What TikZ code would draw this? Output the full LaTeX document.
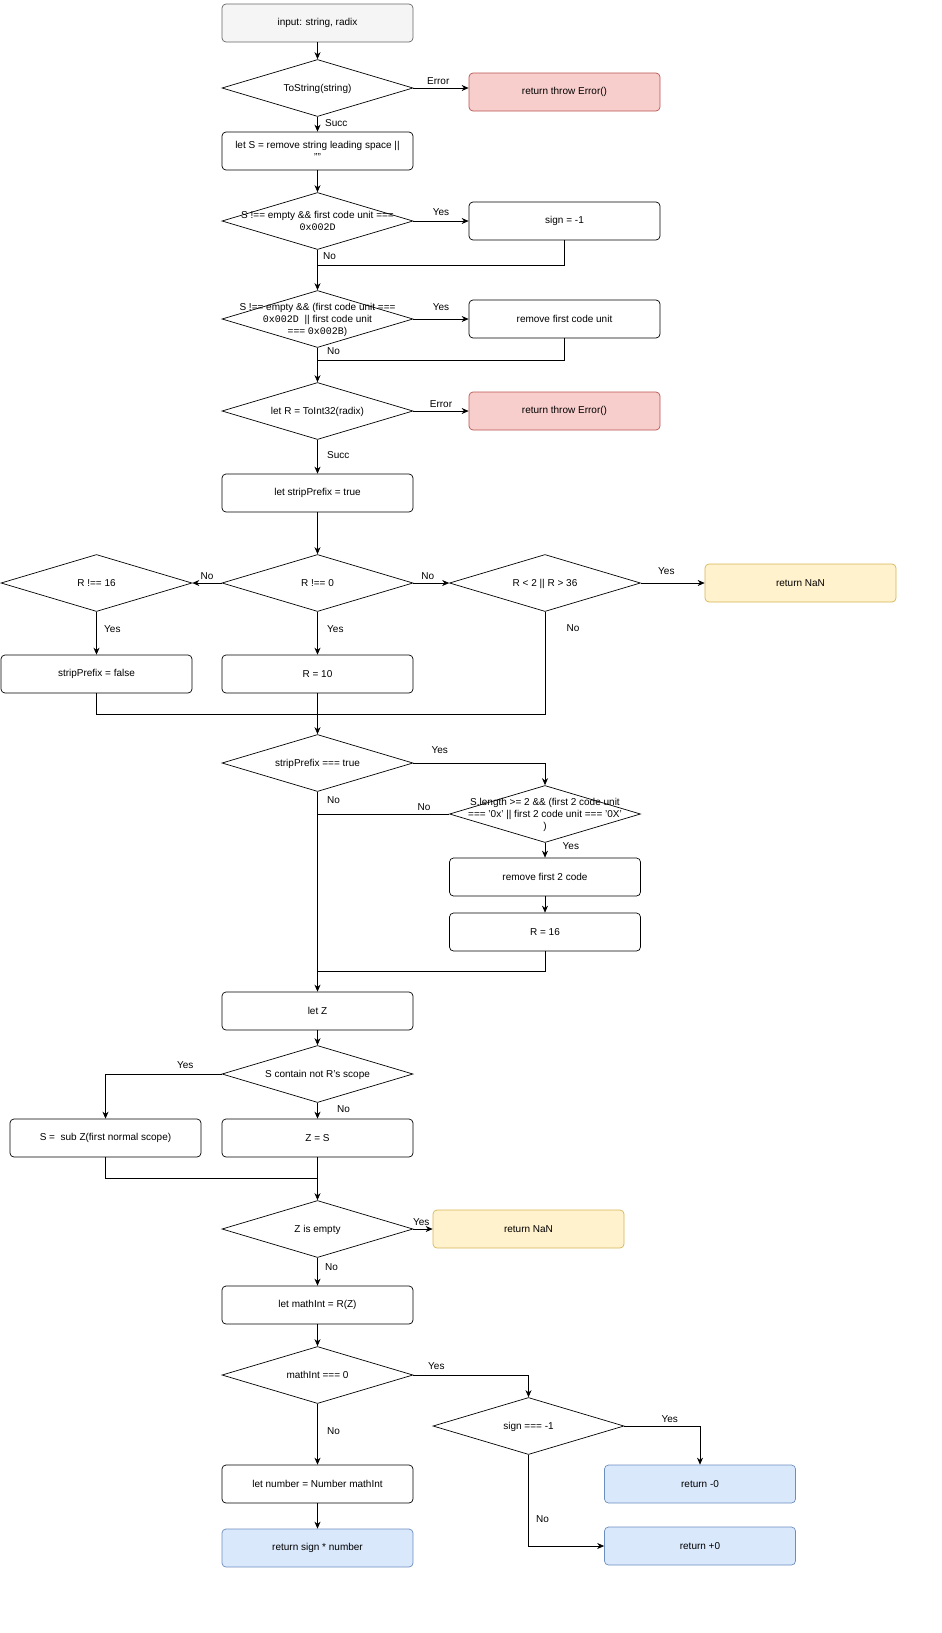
\documentclass[tikz,border=0pt]{standalone}
\usepackage{fontspec}
\setmainfont{Liberation Sans}
\newfontfamily\mon{Liberation Mono}
\usetikzlibrary{shapes.geometric,arrows.meta}
\newcommand\dtx[1]{\makebox[0pt]{\smash{\raisebox{-3.5pt}{\begin{tabular}{@{}c@{}}#1\end{tabular}}}}}
\begin{document}
\begin{tikzpicture}[x=1pt,y=-1pt,font=\fontsize{10}{12}\selectfont,
 box/.style={draw,rounded corners=4pt,minimum width=191pt,minimum height=38pt,align=center,inner sep=1pt},
 dia/.style={draw,diamond,aspect=3.35,minimum width=191pt,minimum height=57pt,inner sep=0pt,align=center},
 ar/.style={-{Stealth[length=7pt,width=6pt]},line width=0.7pt},
 ln/.style={line width=0.7pt},
 lb/.style={font=\fontsize{10}{12}\selectfont}]
\useasboundingbox (0,0) rectangle (942,1633);
\tikzset{every node/.append style={line width=0.7pt}}
\colorlet{gr}{black!4}
\definecolor{rd}{HTML}{F8CECC}\definecolor{rdb}{HTML}{B85450}
\definecolor{yl}{HTML}{FFF2CC}\definecolor{ylb}{HTML}{D6B656}
\definecolor{bl}{HTML}{DAE8FC}\definecolor{blb}{HTML}{6C8EBF}
\node[box,fill=gr,draw=black!60] (in) at (317.5,23) {input: string, radix};
\node[dia] (d1) at (317.5,88) {\dtx{ToString(string)}};
\node[box,fill=rd,draw=rdb] (e1) at (564.5,92) {return throw Error()};
\node[box] (s) at (317.5,151) {\dtx{let S = remove string leading space ||\\""}};
\node[dia] (d2) at (317.5,221) {\dtx{S !== empty \&\& first code unit ===\\{\mon 0x002D}}};
\node[box] (sg) at (564.5,221) {sign = -1};
\node[dia] (d3) at (317.5,319) {\dtx{S !== empty \&\& (first code unit ===\\{\mon 0x002D}\ \ || first code unit\\=== {\mon 0x002B})}};
\node[box] (rf) at (564.5,319) {remove first code unit};
\node[dia] (d4) at (317.5,411) {\dtx{let R = ToInt32(radix)}};
\node[box,fill=rd,draw=rdb] (e2) at (564.5,411) {return throw Error()};
\node[box] (sp) at (317.5,493) {let stripPrefix = true};
\node[dia] (d5) at (317.5,583) {\dtx{R !== 0}};
\node[dia] (d6) at (96.5,583) {\dtx{R !== 16}};
\node[dia] (d7) at (545,583) {\dtx{R < 2 || R > 36}};
\node[box,fill=yl,draw=ylb] (n1) at (800.5,583) {return NaN};
\node[box] (sf) at (96.5,674) {stripPrefix = false};
\node[box] (r10) at (317.5,674) {R = 10};
\node[dia] (d8) at (317.5,763) {\dtx{stripPrefix === true}};
\node[dia] (d9) at (545,814) {\dtx{S.length >= 2 \&\& (first 2 code unit\\=== '0x' || first 2 code unit === '0X'\\)}};
\node[box] (r2) at (545,877) {remove first 2 code};
\node[box] (r16) at (545,932) {R = 16};
\node[box] (z) at (317.5,1011) {let Z};
\node[dia] (d10) at (317.5,1074) {\dtx{S contain not R's scope}};
\node[box] (sz) at (105.5,1138) {S =\ \ sub Z(first normal scope)};
\node[box] (zs) at (317.5,1138) {Z = S};
\node[dia] (d11) at (317.5,1229) {\dtx{Z is empty}};
\node[box,fill=yl,draw=ylb] (n2) at (528.5,1229) {return NaN};
\node[box] (mi) at (317.5,1305) {let mathInt = R(Z)};
\node[dia] (d12) at (317.5,1375) {\dtx{mathInt === 0}};
\node[dia] (d13) at (528.5,1426) {\dtx{sign === -1}};
\node[box,fill=bl,draw=blb] (m0) at (700,1484) {return -0};
\node[box,fill=bl,draw=blb] (p0) at (700,1546) {return +0};
\node[box] (nm) at (317.5,1484) {let number = Number mathInt};
\node[box,fill=bl,draw=blb] (rs) at (317.5,1548) {return sign * number};
\coordinate (m1) at (317.5,265);
\coordinate (m2) at (317.5,360);
\coordinate (m3) at (317.5,714);
\coordinate (m4) at (317.5,971);
\coordinate (m5) at (317.5,1178);
\draw[ar] (in) -- (d1);
\draw[ar] (d1.east) -- (e1.west|-d1.east) node[pos=0.45,above,lb]{Error};
\draw[ar] (d1) -- (s) node[pos=0.4,right,lb,xshift=4pt]{Succ};
\draw[ar] (s) -- (d2);
\draw[ar] (d2) -- (sg) node[pos=0.5,above,lb,yshift=2pt]{Yes};
\draw[ln] (sg.south) |- (m1);
\draw[ar] (d2.south) -- (d3.north) node[pos=0.15,right,lb,xshift=2pt]{No};
\draw[ar] (d3) -- (rf) node[pos=0.5,above,lb,yshift=5pt]{Yes};
\draw[ln] (rf.south) |- (m2);
\draw[ar] (d3.south) -- (d4.north) node[pos=0.1,right,lb,xshift=6pt]{No};
\draw[ar] (d4) -- (e2) node[pos=0.5,above,lb]{Error};
\draw[ar] (d4) -- (sp) node[pos=0.45,right,lb,xshift=6pt]{Succ};
\draw[ar] (sp) -- (d5);
\draw[ar] (d5) -- (d6) node[pos=0.5,above,lb]{No};
\draw[ar] (d5) -- (d7) node[pos=0.4,above,lb]{No};
\draw[ar] (d7) -- (n1) node[pos=0.4,above,lb,yshift=5pt]{Yes};
\draw[ar] (d6) -- (sf) node[pos=0.4,right,lb,xshift=4pt]{Yes};
\draw[ar] (d5) -- (r10) node[pos=0.4,right,lb,xshift=6pt]{Yes};
\draw[ln] (sf.south) |- (m3);
\draw[ln] (d7.south) |- (m3) node[pos=0.08,right,lb,xshift=18pt]{No};
\draw[ar] (r10) -- (d8);
\draw[ar] (d8.east) -| (d9.north) node[pos=0.1,above,lb,yshift=6pt]{Yes};
\draw[ar] (d8.south) -- (z.north) node[pos=0.04,right,lb,xshift=6pt]{No};
\draw[ln] (d9.west) -- (d9.west-|m3) node[pos=0.1,above,lb,xshift=-12pt]{No};
\draw[ar] (d9) -- (r2) node[pos=0.2,right,lb,xshift=14pt]{Yes};
\draw[ar] (r2) -- (r16);
\draw[ln] (r16.south) |- (m4);
\draw[ar] (z) -- (d10);
\draw[ar] (d10.west) -| (sz.north) node[pos=0.2,above,lb,yshift=2pt,xshift=10pt]{Yes};
\draw[ar] (d10) -- (zs) node[pos=0.4,right,lb,xshift=16pt]{No};
\draw[ln] (sz.south) |- (m5);
\draw[ar] (zs) -- (d11);
\draw[ar] (d11) -- (n2) node[pos=0.1,above,lb,xshift=6pt]{Yes};
\draw[ar] (d11) -- (mi) node[pos=0.35,right,lb,xshift=4pt]{No};
\draw[ar] (mi) -- (d12);
\draw[ar] (d12.east) -| (d13.north) node[pos=0.1,above,lb,yshift=2pt]{Yes};
\draw[ar] (d12) -- (nm) node[pos=0.45,right,lb,xshift=6pt]{No};
\draw[ar] (d13.east) -| (m0.north) node[pos=0.3,above,lb]{Yes};
\draw[ar] (d13.south) |- (p0.west) node[pos=0.35,right,lb,xshift=4pt]{No};
\draw[ar] (nm) -- (rs);
\end{tikzpicture}
\end{document}
